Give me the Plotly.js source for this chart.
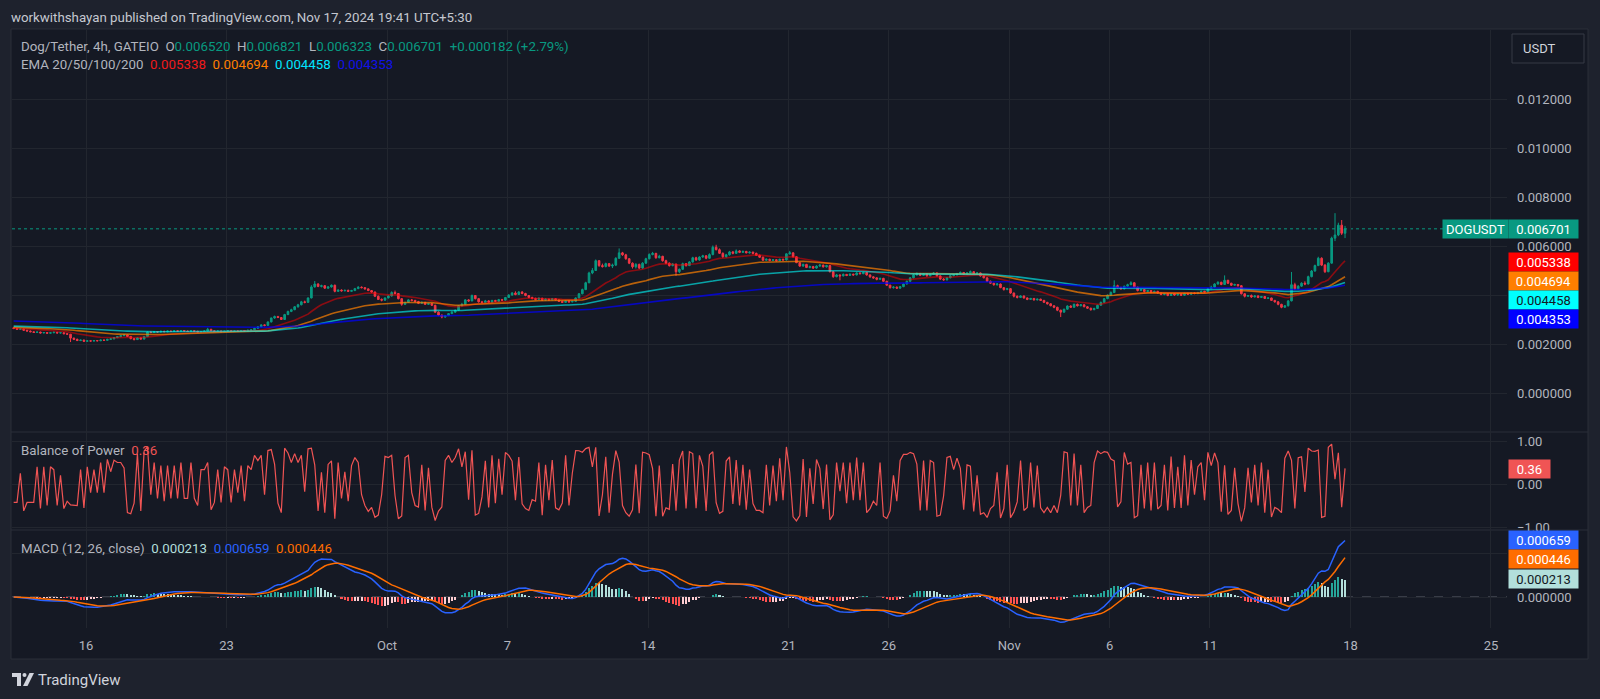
<!DOCTYPE html>
<html><head><meta charset="utf-8">
<script src="https://cdn.plot.ly/plotly-3.0.1.min.js"></script>
<style>html,body{margin:0;padding:0;background:#1e222d;overflow:hidden}#chart{width:1600px;height:699px}</style>
</head><body><div id="chart"></div>
<script>
// ---------------- DATA (prices in 1e-6 USDT) ----------------
const firstCandle = '2024-09-12T09:30:00Z';   // bar open time (chart local time)
const candleHours = 4;
const priceUnit = 1e-6;
const firstOpen = 2660;
const closes = [
2630,2600,2610,2560,2530,2500, 2470,2490,2450,2470,2440,2460, 2480,2450,2460,2420,2400,2240, 2190,2140,2160,2110,2130,2120,
2140,2130,2160,2150,2190,2210, 2260,2300,2340,2370,2310,2220, 2180,2250,2200,2300,2490,2470, 2510,2490,2520,2500,2530,2510,
2540,2520,2550,2530,2510,2540, 2520,2490,2510,2530,2600,2540, 2510,2530,2500,2520,2540,2510, 2530,2520,2550,2530,2560,2580,
2640,2700,2780,2760,2900,3060, 3120,3080,3000,3200,3330,3400, 3520,3600,3720,3700,3880,4330, 4450,4350,4380,4280,4330,4400,
4150,4200,4170,4190,4150,4180, 4260,4320,4300,4250,4180,4120, 3950,3820,3790,3880,3960,4100, 4060,3850,3620,3700,3800,3780,
3730,3660,3700,3620,3650,3580, 3300,3180,3100,3160,3240,3300, 3380,3560,3620,3800,3760,3980, 3850,3720,3690,3760,3700,3780,
3740,3810,3790,3900,4000,4080, 4020,4120,4060,3980,3900,3860, 3820,3870,3790,3830,3800,3850, 3800,3740,3700,3760,3720,3740,
3880,4050,4220,4500,4900,5000, 5400,5200,5160,5280,5180,5220, 5500,5720,5640,5480,5300,5150, 5250,5100,5300,5480,5650,5700,
5520,5580,5400,5300,5200,5260, 4950,5050,5280,5200,5350,5520, 5430,5550,5600,5500,5650,5950, 5850,5700,5560,5640,5760,5700,
5800,5740,5780,5720,5750,5700, 5620,5540,5420,5460,5410,5440, 5400,5460,5430,5680,5720,5560, 5320,5180,5250,5120,5160,5100,
5180,5220,5150,5200,4950,4750, 4820,4780,4840,4800,4850,4820, 4900,4870,4920,4820,4740,4700, 4640,4680,4560,4400,4300,4320,
4280,4340,4450,4560,4700,4820, 4880,4800,4860,4780,4840,4900, 4780,4650,4620,4700,4790,4820, 4880,4920,4860,4900,4950,4880,
4900,4780,4700,4560,4480,4420, 4450,4300,4220,4260,4080,3950, 3900,3960,3880,3820,3860,3800, 3830,3780,3700,3640,3560,3500,
3380,3300,3420,3550,3500,3620, 3560,3600,3520,3460,3400,3450, 3580,3700,3850,3990,4100,4380, 4300,4250,4360,4420,4500,4320,
4180,4220,4140,4180,4100,4150, 4080,4020,4060,3980,4050,4000, 4040,3990,4070,4030,4080,4060, 4100,4150,4120,4260,4320,4450,
4520,4430,4600,4480,4400,4430, 4380,4050,3950,3980,3920,3960, 3900,3940,3860,3880,3780,3720, 3620,3500,3560,3760,4420,4250,
4360,4480,4450,4750,4980,5200, 5500,5220,4950,5300,6320,6450, 6850,6520,6701];
const highs = [
2680,2650,2630,2620,2580,2550, 2520,2510,2500,2490,2480,2480, 2500,2490,2480,2470,2430,2410, 2260,2220,2180,2180,2150,2150,
2160,2160,2180,2180,2210,2240, 2280,2320,2360,2400,2380,2320, 2240,2270,2260,2320,2510,2520, 2530,2530,2540,2540,2550,2550,
2560,2560,2570,2570,2550,2560, 2560,2540,2530,2550,2660,2620, 2560,2550,2550,2540,2560,2560, 2550,2550,2570,2570,2580,2600,
2660,2730,2800,2800,2920,3080, 3160,3150,3100,3230,3360,3440, 3550,3640,3760,3770,3900,4400, 4570,4480,4420,4400,4360,4430,
4420,4230,4230,4220,4220,4210, 4290,4360,4350,4320,4270,4200, 4140,3980,3860,3900,3990,4150, 4180,4080,3870,3720,3830,3840,
3800,3760,3730,3720,3680,3680, 3600,3330,3200,3180,3260,3340, 3400,3580,3680,3830,3830,4020, 4000,3880,3760,3800,3790,3800,
3800,3840,3840,3920,4030,4120, 4150,4160,4160,4090,4000,3930, 3890,3900,3880,3860,3850,3880, 3870,3820,3770,3780,3770,3780,
3900,4080,4260,4540,4950,5100, 5450,5420,5280,5320,5300,5280, 5540,5900,5760,5680,5500,5330, 5300,5280,5340,5520,5700,5760,
5720,5640,5600,5440,5330,5300, 5280,5080,5320,5300,5380,5560, 5560,5580,5640,5620,5700,6020, 6050,5900,5740,5680,5800,5790,
5860,5830,5810,5800,5780,5770, 5730,5650,5570,5490,5480,5470, 5470,5480,5480,5700,5800,5740, 5580,5340,5280,5270,5200,5190,
5210,5260,5240,5230,5220,4980, 4860,4840,4880,4860,4880,4870, 4930,4920,4950,4940,4840,4760, 4720,4700,4700,4580,4420,4360,
4350,4360,4480,4590,4730,4850, 4920,4900,4890,4880,4870,4940, 4920,4800,4690,4720,4820,4850, 4900,4960,4940,4930,5000,4970,
4940,4920,4800,4720,4590,4500, 4490,4470,4320,4290,4280,4100, 3980,3990,3980,3900,3880,3880, 3850,3850,3800,3720,3660,3580,
3520,3400,3440,3580,3580,3650, 3650,3630,3620,3550,3480,3480, 3600,3730,3880,4020,4150,4600, 4420,4340,4380,4460,4560,4520,
4340,4250,4240,4200,4200,4180, 4170,4110,4080,4080,4070,4060, 4070,4060,4090,4090,4100,4110, 4130,4180,4170,4290,4380,4480,
4560,4540,4800,4620,4500,4460, 4450,4400,4080,4000,4020,3990, 3990,3960,3960,3900,3890,3800, 3750,3640,3580,3790,4940,4500,
4400,4520,4560,4790,5020,5240, 5560,5540,5260,5340,6380,7340, 6950,7060,6821];
const lows = [
2610,2580,2590,2540,2510,2480, 2450,2460,2430,2440,2420,2430, 2440,2430,2430,2400,2380,2080, 2160,2120,2120,2090,2100,2100,
2100,2110,2120,2130,2140,2170, 2190,2240,2280,2320,2290,2190, 2150,2170,2180,2190,2290,2440, 2450,2470,2470,2490,2480,2490,
2490,2500,2510,2510,2490,2500, 2500,2480,2470,2490,2520,2520, 2490,2490,2480,2490,2500,2490, 2490,2500,2500,2520,2510,2540,
2570,2620,2680,2720,2740,2880, 3030,3060,2980,2990,3180,3300, 3380,3480,3580,3660,3680,3860, 4300,4320,4310,4250,4250,4300,
4110,4130,4140,4150,4120,4140, 4160,4240,4270,4220,4160,4090, 3920,3800,3740,3760,3860,3940, 4030,3820,3560,3590,3680,3740,
3700,3630,3640,3590,3600,3550, 3270,3140,3050,3070,3140,3220, 3270,3360,3530,3590,3720,3740, 3820,3690,3660,3670,3680,3680,
3710,3720,3760,3770,3880,3970, 3990,4000,4030,3950,3870,3820, 3790,3800,3770,3770,3770,3790, 3780,3720,3680,3690,3690,3700,
3720,3860,4030,4200,4480,4850, 4980,5150,5120,5130,5150,5100, 5180,5470,5600,5440,5260,5080, 5080,5060,5070,5270,5450,5620,
5480,5500,5360,5260,5160,5170, 4780,4900,5020,5160,5180,5320, 5400,5400,5520,5460,5480,5620, 5820,5680,5520,5530,5610,5660,
5680,5710,5720,5700,5690,5660, 5600,5520,5390,5400,5380,5400, 5370,5380,5400,5410,5650,5530, 5300,5150,5160,5100,5090,5060,
5070,5150,5120,5120,4920,4700, 4720,4600,4760,4770,4780,4790, 4800,4840,4850,4790,4700,4660, 4600,4620,4540,4380,4260,4260,
4250,4250,4320,4430,4540,4680, 4790,4770,4780,4750,4760,4820, 4760,4620,4580,4590,4680,4760, 4800,4850,4840,4840,4880,4860,
4840,4750,4680,4540,4450,4380, 4380,4280,4180,4200,4050,3900, 3860,3880,3850,3790,3800,3770, 3780,3760,3680,3610,3540,3460,
3340,3100,3280,3400,3480,3480, 3530,3540,3500,3440,3360,3380, 3430,3560,3680,3830,3960,4080, 4270,4220,4230,4330,4400,4290,
4150,4160,4100,4120,4070,4080, 4050,3990,3990,3950,3960,3970, 3970,3970,3970,4010,4010,4030, 4030,4080,4090,4100,4240,4300,
4420,4400,4410,4450,4370,4380, 4340,4020,3900,3920,3880,3900, 3870,3880,3840,3840,3760,3690, 3580,3460,3480,3530,3740,4200,
4220,4330,4400,4430,4720,4950, 5180,5180,4900,4930,5280,6200, 6400,6450,6323];

const emaPeriods = [20, 50, 100, 200];
const emaStartValues = [2650, 2690, 2730, 2940];          // EMA levels at the first visible bar
const emaLastValues = [0.005338, 0.004694, 0.004458, 0.004353];
const lastPrice = 0.006701;
const lastBop = 0.36;
const macdLastValues = [0.000659, 0.000446, 0.000213];    // macd, signal, histogram
const priceTicks = [0, 0.002, 0.004, 0.006, 0.008, 0.010, 0.012];
const priceTickText = ['0.000000','0.002000','','0.006000','0.008000','0.010000','0.012000']; // 0.004000 hidden under EMA labels
const bopTicks = [-1, 0, 1];
const bopTickText = ['\u22121.00', '0.00', '1.00'];
const macdTicks = [0, 0.0005];
const macdTickText = ['0.000000', ''];                     // 0.000500 hidden under MACD labels
const xTickDates = ['2024-09-16','2024-09-23','2024-10-01','2024-10-07','2024-10-14','2024-10-21','2024-10-26','2024-11-01','2024-11-06','2024-11-11','2024-11-18','2024-11-25'];
const xTickText = ['16','23','Oct','7','14','21','26','Nov','6','11','18','25'];
const legendOHLC = ['0.006520','0.006821','0.006323','0.006701','+0.000182 (+2.79%)'];

// ---------------- BUILD ----------------
const W = 1600, H = 699;
const FONT = 'Roboto, "Open Sans", sans-serif';
const PANEL = '#151924', GRID = '#22262f', SEP = '#2a2e39', AXT = '#b2b5be', TXT = '#d1d4dc';
const UP = '#089981', DN = '#f23645';

const T = [], O = [], HI = [], LO = [], C = [];
const t0 = Date.parse(firstCandle);
function fmtTime(ms){ return new Date(ms).toISOString().slice(0,16).replace('T',' '); }
for (let i = 0; i < closes.length; i++) {
  T.push(fmtTime(t0 + i * candleHours * 3600e3));
  O.push((i === 0 ? firstOpen : closes[i-1]) * priceUnit);
  HI.push(highs[i] * priceUnit); LO.push(lows[i] * priceUnit); C.push(closes[i] * priceUnit);
}
function ema(src, n, seed){ const a = 2/(n+1); const out = []; let e = seed;
  for (let i = 0; i < src.length; i++){ e = (i === 0) ? seed : a*src[i] + (1-a)*e; out.push(e); } return out; }
const emas = emaPeriods.map((n,k) => ema(C, n, emaStartValues[k]*priceUnit));
const fast = ema(C, 12, C[0]), slow = ema(C, 26, C[0]);
const macd = fast.map((v,i) => v - slow[i]);
const signal = ema(macd, 9, 0);
const hist = macd.map((v,i) => v - signal[i]);
const histColors = hist.map((h,i) => { const p = i > 0 ? hist[i-1] : h;
  if (h >= 0) return h > p ? '#26a69a' : '#b2dfdb'; return h > p ? '#ffcdd2' : '#ff5252'; });
const bop = C.map((c,i) => { const r = HI[i] - LO[i]; return r > 0 ? (c - O[i]) / r : 0; });

// pane geometry (pixels)
const X0 = 12, X1 = 1507;
const P1 = [30, 432], P2 = [432, 530], P3 = [530, 628];
const dom = p => [1 - p[1]/H, 1 - p[0]/H];
const priceRange = [-(432-393)*0.002/49, (393-30)*0.002/49];
const bopRange = [-(530-484)/43, (484-432)/43];
const macdRange = [-(628-597)/86500, (597-530)/86500];
function toPx(v, rng, pane){ return pane[1] - (v - rng[0])/(rng[1]-rng[0])*(pane[1]-pane[0]); }
const fmt6 = v => v.toFixed(6);
const emaLineColors = ['rgba(255,0,0,0.5)','rgba(255,128,0,0.7)','rgba(0,255,255,0.6)','rgba(0,0,255,0.72)'];
const emaBoxColors = ['#ff0000','#ff7f00','#00ffff','#0000ff'];
const emaBoxText = ['#ffffff','#ffffff','#131722','#ffffff'];

const tickFont = {family: FONT, size: 13, color: AXT};
const xStart = '2024-09-12 07:30', xEnd = '2024-11-25 19:10';

const traces = [];
traces.push({type:'candlestick', x:T, open:O, high:HI, low:LO, close:C, xaxis:'x', yaxis:'y',
  increasing:{line:{color:UP, width:1}, fillcolor:UP}, decreasing:{line:{color:DN, width:1}, fillcolor:DN},
  whiskerwidth:0, hoverinfo:'skip', showlegend:false});
emas.forEach((e,k) => traces.push({type:'scatter', mode:'lines', x:T, y:e, xaxis:'x', yaxis:'y',
  line:{color:emaLineColors[k], width:1.6}, hoverinfo:'skip', showlegend:false}));
traces.push({type:'scatter', mode:'lines', x:T, y:bop, xaxis:'x', yaxis:'y2',
  line:{color:'#f05454', width:1.2}, hoverinfo:'skip', showlegend:false});
traces.push({type:'bar', x:T, y:hist, xaxis:'x', yaxis:'y3', marker:{color:histColors, line:{width:0}},
  width: candleHours*3600e3*0.6, hoverinfo:'skip', showlegend:false});
traces.push({type:'scatter', mode:'lines', x:T, y:macd, xaxis:'x', yaxis:'y3',
  line:{color:'#2962ff', width:1.5}, hoverinfo:'skip', showlegend:false});
traces.push({type:'scatter', mode:'lines', x:T, y:signal, xaxis:'x', yaxis:'y3',
  line:{color:'#ff6d00', width:1.5}, hoverinfo:'skip', showlegend:false});

const pp = (x,y) => `${x/W},${1-y/H}`;
const shapes = [
  {type:'rect', xref:'paper', yref:'paper', x0:11/W, x1:1588/W, y0:1-659/H, y1:1-29/H, fillcolor:PANEL, line:{color:SEP, width:1}, layer:'below'},
  {type:'line', xref:'paper', yref:'paper', x0:11/W, x1:1588/W, y0:1-432/H, y1:1-432/H, line:{color:SEP, width:1}, layer:'below'},
  {type:'line', xref:'paper', yref:'paper', x0:11/W, x1:1588/W, y0:1-530/H, y1:1-530/H, line:{color:SEP, width:1}, layer:'below'},
  {type:'line', xref:'paper', yref:'y', x0:X0/W, x1:X1/W, y0:lastPrice, y1:lastPrice, line:{color:UP, width:1, dash:'dot'}, layer:'between'},
  {type:'line', xref:'paper', yref:'y3', x0:X0/W, x1:X1/W, y0:0, y1:0, line:{color:'#5d606b', width:1, dash:'dash'}, layer:'between'},
  {type:'rect', xref:'paper', yref:'paper', x0:1512/W, x1:1584/W, y0:1-63/H, y1:1-34/H, fillcolor:PANEL, line:{color:'#363a45', width:1}},
  // TradingView logo
  {type:'path', xref:'paper', yref:'paper', path:`M${pp(12,673)} L${pp(21,673)} L${pp(21,686)} L${pp(17,686)} L${pp(17,677)} L${pp(12,677)} Z`, fillcolor:TXT, line:{width:0}},
  {type:'circle', xref:'paper', yref:'paper', x0:22.5/W, x1:26.5/W, y0:1-677/H, y1:1-673/H, fillcolor:TXT, line:{width:0}},
  {type:'path', xref:'paper', yref:'paper', path:`M${pp(29.5,673)} L${pp(34,673)} L${pp(27.5,686)} L${pp(23,686)} Z`, fillcolor:TXT, line:{width:0}},
];

const ann = [];
function text(x, y, t, opts){ ann.push(Object.assign({xref:'paper', yref:'paper', x:x/W, y:1-y/H, xanchor:'left', yanchor:'middle',
  text:t, showarrow:false, font:{family:FONT, size:13.3, color:TXT}, borderpad:0}, opts||{})); }
function box(yPx, t, bg, fg, xPx, w){ ann.push({xref:'paper', yref:'paper', x:(xPx||1508)/W, y:1-yPx/H, xanchor:'left', yanchor:'middle',
  text:t, showarrow:false, font:{family:FONT, size:13, color:fg}, bgcolor:bg, width:w||67, height:16, borderpad:1, align:'center'}); }
const sp = '\u00a0\u00a0';
const g = s => `<span style="color:${AXT}">${s}</span>`;
const c = (s,col) => `<span style="color:${col}">${s}</span>`;

text(10, 17, 'workwithshayan published on TradingView.com, Nov 17, 2024 19:41 UTC+5:30', {font:{family:FONT, size:13.3, color:'#c5c8d0'}});
text(20, 47, g('Dog/Tether, 4h, GATEIO') + sp + g('O') + c(legendOHLC[0],UP) + sp + g('H') + c(legendOHLC[1],UP) + sp +
  g('L') + c(legendOHLC[2],UP) + sp + g('C') + c(legendOHLC[3],UP) + sp + c(legendOHLC[4],UP));
text(20, 65, g('EMA 20/50/100/200') + sp + emaLastValues.map((v,k) => c(fmt6(v), ['#f01a1a','#ff7f00','#00e5ff','#1010e8'][k])).join(sp));
text(20, 450, g('Balance of Power') + sp + c(lastBop.toFixed(2), '#f05454'));
text(20, 548, g('MACD (12, 26, close)') + sp + c(fmt6(macdLastValues[2]), '#b2dfdb') + sp + c(fmt6(macdLastValues[0]), '#2962ff') + sp + c(fmt6(macdLastValues[1]), '#ff6d00'));
text(1522, 48.5, 'USDT', {font:{family:FONT, size:13, color:TXT}});
text(37, 680, 'TradingView', {font:{family:FONT, size:15, color:TXT}});

// price-scale labels
const lp = toPx(lastPrice, priceRange, P1);
box(lp, 'DOGUSDT', UP, '#ffffff', 1442, 63);
box(lp, fmt6(lastPrice), UP, '#ffffff');
let prev = -1e9;
emaLastValues.forEach((v,k) => { let p = Math.max(toPx(v, priceRange, P1), prev + 19); prev = p; box(p, fmt6(v), emaBoxColors[k], emaBoxText[k]); });
box(toPx(lastBop, bopRange, P2), lastBop.toFixed(2), '#f05454', '#ffffff', 1508, 39);
prev = -1e9;
[['#2962ff','#ffffff'],['#ff6d00','#ffffff'],['#b2dfdb','#131722']].forEach((cc,k) => {
  const v = macdLastValues[k]; let p = Math.max(toPx(v, macdRange, P3), prev + 19); prev = p; box(p, fmt6(v), cc[0], cc[1]); });

const yCommon = {side:'right', anchor:'x', showgrid:true, gridcolor:GRID, gridwidth:1, zeroline:false, showline:false,
  ticks:'', tickfont:tickFont, ticklabelstandoff:9, fixedrange:true};
const layout = {
  width:W, height:H, margin:{l:0, r:0, t:0, b:0}, paper_bgcolor:'#1e222d', plot_bgcolor:'rgba(0,0,0,0)',
  showlegend:false, dragmode:false, bargap:0,
  xaxis:{domain:[X0/W, X1/W], anchor:'y3', type:'date', range:[xStart, xEnd], tickvals:xTickDates, ticktext:xTickText,
    showgrid:true, gridcolor:GRID, gridwidth:1, zeroline:false, showline:false, ticks:'', tickfont:tickFont,
    ticklabelstandoff:8, rangeslider:{visible:false}, fixedrange:true},
  yaxis:Object.assign({}, yCommon, {domain:dom(P1), range:priceRange, tickvals:priceTicks, ticktext:priceTickText}),
  yaxis2:Object.assign({}, yCommon, {domain:dom(P2), range:bopRange, tickvals:bopTicks, ticktext:bopTickText}),
  yaxis3:Object.assign({}, yCommon, {domain:dom(P3), range:macdRange, tickvals:macdTicks, ticktext:macdTickText}),
  shapes:shapes, annotations:ann,
};
Plotly.newPlot('chart', traces, layout, {staticPlot:true, displayModeBar:false});
</script></body></html>
